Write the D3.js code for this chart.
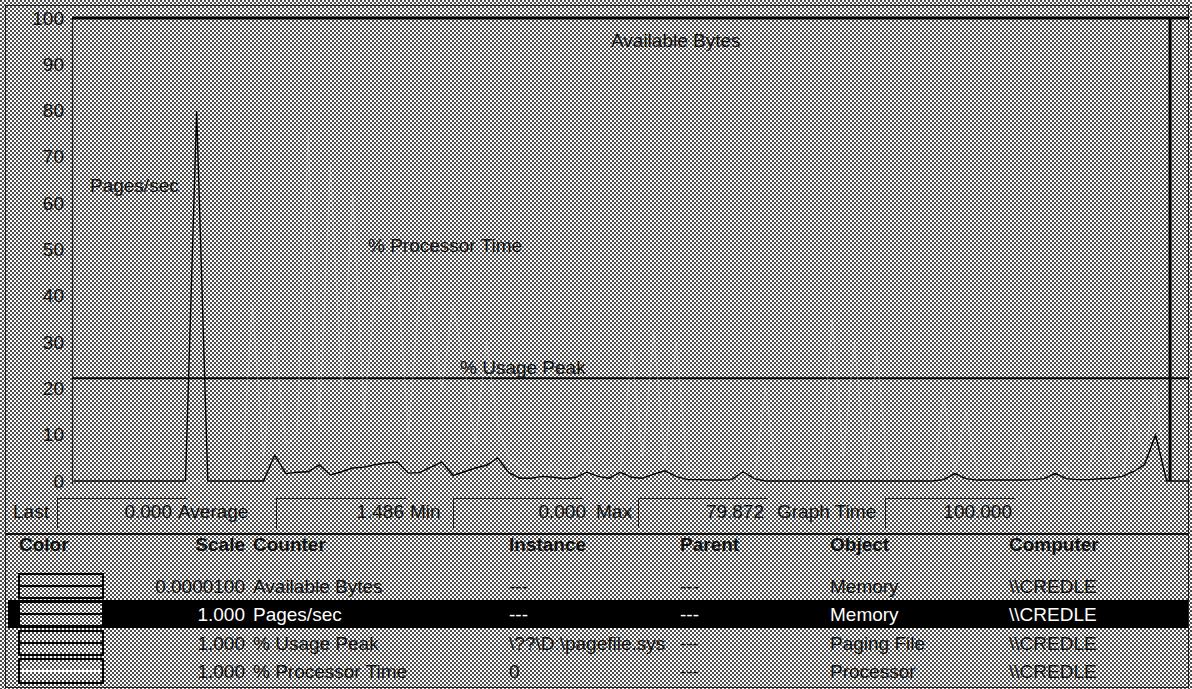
<!DOCTYPE html>
<html>
<head>
<meta charset="utf-8">
<script src="https://cdn.jsdelivr.net/npm/d3@7"></script>
<style>
  body { margin: 0; background: #fff; }
  svg { display: block; }
  text { font-family: "Liberation Sans", Arial, sans-serif; font-size: 19px; fill: #111; }
</style>
</head>
<body>
<svg id="chart" width="1192" height="689"></svg>
<script>
// ---- Performance Monitor chart data (one sample per second, 100 s window) ----
const pagesPerSec = [
  0, 0, 0, 0, 0, 0, 0, 0, 0, 0,
  0, 79.872, 0, 0, 0, 0, 0, 0,
  5.6, 1.6, 1.9, 2.0, 3.5, 1.3, 2.0, 2.8, 3.0, 3.5,
  3.9, 4.1, 1.7, 1.8, 3.0, 4.1, 1.2, 2.0, 2.8, 3.4,
  5.0, 1.8, 0.6, 0.6, 1.0, 0.8, 0.5, 0.8, 1.9, 1.0,
  0.6, 1.9, 0.8, 0.6, 1.5, 2.2, 1.0, 0.3, 0.3, 0.2,
  0.2, 0.3, 2.0, 0.5,
  0, 0, 0, 0, 0, 0, 0, 0, 0, 0, 0, 0, 0, 0, 0, 0,
  0.3, 1.6, 0.5, 0.2, 0.2, 0.2, 0.2, 0.2, 0.3, 0.5,
  1.6, 0.5, 0.3, 0.3, 0.5, 0.6, 1.0, 2.0, 3.5, 9.9,
  0, 0, 0
];

const processorTime = [
  0, 0, 0, 0, 0, 0, 0, 0, 0, 0, 0, 0, 0, 0, 0, 0,
  38, 5, 30, 8, 10, 75, 12, 68, 20, 62, 15, 40, 38, 45, 10, 42,
  35, 20, 38, 25, 8, 30, 12, 5,
  3, 2, 0, 4, 0, 2, 6, 0, 3, 2,
  28, 5, 32, 4, 30, 3, 2, 0, 2, 0,
  2, 0, 20, 2, 0, 3, 0, 2, 35, 5,
  30, 3, 28, 2, 0, 0, 2, 0, 18, 2,
  15, 2, 0, 0, 3, 10, 0, 2, 0, 3,
  0, 2, 12, 2, 0, 15, 5, 20, 0, 0, 0
];

const usagePeak = 22.2;             // % Usage Peak of the paging file
const availableBytes = 20480000;    // bytes, drawn with scale 0.0000100
const availableBytesScale = 0.00001;
const timeBarSample = 98.3;         // current position of the sweep bar

const yTicks = [0, 10, 20, 30, 40, 50, 60, 70, 80, 90, 100];

// Status bar for the selected counter (Pages/sec)
const statLabels = ["Last", "Average", "Min", "Max", "Graph Time"];
const statValues = ["0.000", "1.486", "0.000", "79.872", "100.000"];

// Legend table
const headers = ["Color", "Scale", "Counter", "Instance", "Parent", "Object", "Computer"];
const scales = ["0.0000100", "1.000", "1.000", "1.000"];
const counters = ["Available Bytes", "Pages/sec", "% Usage Peak", "% Processor Time"];
const instances = ["---", "---", "\\??\\D:\\pagefile.sys", "0"];
const parents = ["---", "---", "---", "---"];
const objects = ["Memory", "Memory", "Paging File", "Processor"];
const computers = ["\\\\CREDLE", "\\\\CREDLE", "\\\\CREDLE", "\\\\CREDLE"];
const lineColors = ["#000", "#000", "#000", "#fff"];
const selectedRow = 1;

// ---- drawing ----
const W = 1192, H = 689;
const svg = d3.select("#chart");

const defs = svg.append("defs");
const pat = defs.append("pattern")
  .attr("id", "dither").attr("patternUnits", "userSpaceOnUse")
  .attr("width", 4).attr("height", 4);
pat.append("rect").attr("width", 4).attr("height", 4).attr("fill", "#fbfbfb");
pat.append("rect").attr("x", 0).attr("y", 0).attr("width", 2).attr("height", 2).attr("fill", "#4c4c4c");
pat.append("rect").attr("x", 2).attr("y", 2).attr("width", 2).attr("height", 2).attr("fill", "#4c4c4c");

defs.append("clipPath").attr("id", "instClip")
  .append("rect").attr("x", 505).attr("y", 520).attr("width", 170).attr("height", 169);

svg.append("rect").attr("width", W).attr("height", H).attr("fill", "url(#dither)")
  .attr("shape-rendering", "crispEdges");

// window frame
svg.append("rect").attr("x", 5.5).attr("y", 5.5).attr("width", W - 9).attr("height", H - 7)
  .attr("fill", "none").attr("stroke", "#222");

// scales
const x = d3.scaleLinear().domain([0, 100]).range([74, 1189]);
const y = d3.scaleLinear().domain([0, 100]).range([481, 18]).clamp(true);

// plot left border
svg.append("line").attr("x1", 72.5).attr("x2", 72.5).attr("y1", y(100)).attr("y2", y(0) + 3)
  .attr("stroke", "#222").attr("stroke-width", 1.2);

// y axis labels
const yAxis = svg.append("g").attr("transform", "translate(64,0)")
  .call(d3.axisLeft(y).tickValues(yTicks).tickSize(0).tickPadding(0).tickFormat(d3.format("d")));
yAxis.select(".domain").remove();
yAxis.selectAll("text").style("font-size", "19px").style("font-family", "'Liberation Sans', Arial, sans-serif")
  .attr("fill", "#111");

const line = d3.line().x((d, i) => x(i)).y(d => y(d));

// Available Bytes (scaled value clipped at the top of the chart)
const abValue = Math.min(100, availableBytes * availableBytesScale);
svg.append("line").attr("x1", x.range()[0] - 2).attr("x2", x(100))
  .attr("y1", y(abValue)).attr("y2", y(abValue))
  .attr("stroke", "#000").attr("stroke-width", 3);

// % Usage Peak
svg.append("line").attr("x1", x.range()[0] - 2).attr("x2", x(100))
  .attr("y1", y(usagePeak)).attr("y2", y(usagePeak))
  .attr("stroke", "#000").attr("stroke-width", 2);

// % Processor Time (white pen, barely visible on the grey)
svg.append("path").datum(processorTime).attr("d", line)
  .attr("fill", "none").attr("stroke", "#fff").attr("stroke-opacity", 0.3).attr("stroke-width", 1);

// Pages/sec
svg.append("path").datum(pagesPerSec).attr("d", line)
  .attr("fill", "none").attr("stroke", "#000").attr("stroke-width", 1.4)
  .attr("stroke-linejoin", "miter");

// time bar
svg.append("line").attr("x1", x(timeBarSample)).attr("x2", x(timeBarSample))
  .attr("y1", y(100)).attr("y2", y(0))
  .attr("stroke", "#000").attr("stroke-width", 3);

// chart annotations
const notes = [
  { t: "Available Bytes", x: 611, y: 40 },
  { t: "Pages/sec", x: 90, y: 185 },
  { t: "% Processor Time", x: 368, y: 245 },
  { t: "% Usage Peak", x: 460, y: 367 }
];
svg.append("g").selectAll("text").data(notes).join("text")
  .attr("x", d => d.x).attr("y", d => d.y).attr("dy", "0.35em").text(d => d.t);

// ---- status bar ----
const statLabelX = [13, 178, 410, 596, 777];
const statBoxX = [57, 276, 453, 638, 885];
const statValueRight = [172, 404, 586, 764, 1012];
const statY = 511;
const sb = svg.append("g");
statLabels.forEach((lab, i) => {
  sb.append("text").attr("x", statLabelX[i]).attr("y", statY).attr("dy", "0.35em").text(lab);
  sb.append("line").attr("x1", statBoxX[i]).attr("x2", statBoxX[i] + 130)
    .attr("y1", 498.5).attr("y2", 498.5).attr("stroke", "#222");
  sb.append("line").attr("x1", statBoxX[i] + 0.5).attr("x2", statBoxX[i] + 0.5)
    .attr("y1", 498).attr("y2", 528).attr("stroke", "#222");
  sb.append("text").attr("x", statValueRight[i]).attr("y", statY).attr("dy", "0.35em")
    .attr("text-anchor", "end").text(statValues[i]);
});

// ---- legend table ----
svg.append("line").attr("x1", 6).attr("x2", W - 4).attr("y1", 534).attr("y2", 534)
  .attr("stroke", "#111").attr("stroke-width", 2);

const colX = { color: 19, scaleRight: 245, counter: 253, instance: 509, parent: 680, object: 830, computer: 1009 };
const headerY = 544;
const rowY = [586, 614, 643, 671];

const hdr = svg.append("g");
const headerPos = [
  { x: colX.color, a: "start" }, { x: colX.scaleRight, a: "end" }, { x: colX.counter, a: "start" },
  { x: colX.instance, a: "start" }, { x: colX.parent, a: "start" }, { x: colX.object, a: "start" },
  { x: colX.computer, a: "start" }
];
headers.forEach((h, i) => {
  hdr.append("text").attr("x", headerPos[i].x).attr("y", headerY).attr("dy", "0.35em")
    .attr("text-anchor", headerPos[i].a).style("font-weight", "bold").text(h);
});

// selection band
svg.append("rect").attr("x", 8).attr("y", rowY[selectedRow] - 14).attr("width", W - 12).attr("height", 28)
  .attr("fill", "#000");

const rows = svg.append("g");
counters.forEach((c, i) => {
  const cy = rowY[i];
  const fg = i === selectedRow ? "#fff" : "#111";
  // colour / line-style swatch
  rows.append("rect").attr("x", colX.color).attr("y", cy - 12).attr("width", 84).attr("height", 24)
    .attr("fill", "url(#dither)").attr("stroke", "#000").attr("stroke-width", 2);
  rows.append("line").attr("x1", colX.color + 1).attr("x2", colX.color + 83)
    .attr("y1", cy).attr("y2", cy).attr("stroke", lineColors[i]).attr("stroke-width", 2);

  const t = (txt, xx, anchor) => rows.append("text").attr("x", xx).attr("y", cy).attr("dy", "0.35em")
    .attr("text-anchor", anchor || "start").style("fill", fg).text(txt);
  t(scales[i], colX.scaleRight, "end");
  t(c, colX.counter);
  t(instances[i], colX.instance).attr("clip-path", "url(#instClip)");
  t(parents[i], colX.parent);
  t(objects[i], colX.object);
  t(computers[i], colX.computer);
});
</script>
</body>
</html>
